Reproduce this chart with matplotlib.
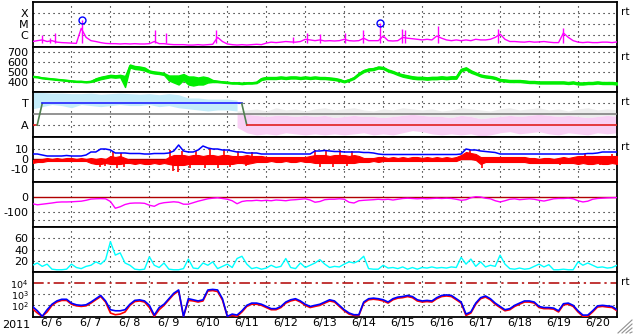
import numpy as np
import matplotlib
matplotlib.use("Agg")
import matplotlib.pyplot as plt
from matplotlib.lines import Line2D

plt.rcParams['font.family'] = ['DejaVu Sans']
plt.rcParams['mathtext.default'] = 'regular'

# time axis: days since 2011-06-06 00:00 UT
t3 = np.arange(121) * 0.125   # 3-hourly samples
t6 = np.arange(61) * 0.25     # 6-hourly samples
day_labels = ["6/ 6", "6/ 7", "6/ 8", "6/ 9", "6/10", "6/11", "6/12", "6/13",
              "6/14", "6/15", "6/16", "6/17", "6/18", "6/19", "6/20"]

# GOES X-ray flux (W/m2), background + short flares
xray = [2.5e-7, 3e-7, 3.5e-7, 2.5e-7, 3e-7, 2.2e-7, 2e-7, 1.9e-7, 1.8e-7, 1.7e-7,
        4e-6, 6e-7, 3e-7, 2.5e-7, 2e-7, 1.7e-7, 1.6e-7, 1.6e-7, 1.5e-7, 1.6e-7,
        1.5e-7, 1.6e-7, 1.5e-7, 1.5e-7, 1.6e-7, 2.5e-7, 1.6e-7, 1.6e-7, 1.4e-7, 1.3e-7,
        1.3e-7, 1.3e-7, 1.2e-7, 1.2e-7, 1.3e-7, 1.2e-7, 1.3e-7, 1.4e-7, 6e-7, 2.5e-7,
        1.5e-7, 1.3e-7, 1.2e-7, 1.3e-7, 1.2e-7, 1.3e-7, 1.4e-7, 1.3e-7, 1.8e-7, 2.2e-7,
        2e-7, 2.2e-7, 2.5e-7, 2.3e-7, 2.2e-7, 2.5e-7, 4e-7, 3.5e-7, 3e-7, 3.5e-7,
        2.8e-7, 3e-7, 2.8e-7, 3e-7, 4e-7, 3e-7, 2.8e-7, 3e-7, 5e-7, 3e-7,
        3e-7, 3e-7, 8e-7, 3e-7, 2.8e-7, 3e-7, 6e-7, 5e-7, 4.5e-7, 4e-7,
        3.5e-7, 4e-7, 3.5e-7, 8e-7, 5e-7, 3.5e-7, 3e-7, 3.5e-7, 3e-7, 3.5e-7,
        3e-7, 4e-7, 3.5e-7, 3.5e-7, 4e-7, 6e-7, 1.2e-6, 4e-7, 2.5e-7, 2.5e-7,
        2.3e-7, 2.2e-7, 2.5e-7, 2.2e-7, 2.3e-7, 2.5e-7, 2.2e-7, 2e-7, 2e-7, 1.5e-6,
        6e-7, 3e-7, 2.2e-7, 2e-7, 2.2e-7, 2e-7, 2e-7, 2.2e-7, 2.2e-7, 2e-7,
        2.3e-7]
flare_day = [0.24, 0.45, 0.58, 1.26, 3.14, 3.43, 4.72, 6.69, 7.04, 7.38,
             8.02, 8.48, 8.92, 9.48, 9.57, 10.41, 11.95, 13.61]
flare_peak = [9e-7, 5e-7, 1.5e-6, 2.3e-5, 2.8e-6, 1.5e-6, 3e-6, 6e-7, 1.5e-6, 1.1e-6,
              1.6e-6, 2.8e-6, 1.3e-5, 3.5e-6, 2.8e-6, 6.6e-6, 3.5e-6, 4.4e-6]
mflare_day = [1.26, 8.92]
mflare_peak = [2.3e-5, 1.3e-5]

# solar wind speed (km/s): mean and half-range of the noisy trace
speed = [455, 450, 440, 435, 430, 425, 420, 415, 410, 405,
         405, 400, 405, 425, 440, 450, 460, 455, 460, 405,
         560, 545, 540, 530, 505, 495, 490, 480, 440, 430,
         420, 450, 415, 410, 410, 415, 420, 410, 405, 400,
         395, 390, 390, 385, 390, 390, 395, 430, 440, 440,
         440, 445, 440, 445, 445, 440, 445, 440, 445, 440,
         440, 435, 430, 420, 405, 420, 440, 480, 510, 525,
         530, 545, 540, 515, 500, 480, 465, 455, 445, 440,
         440, 435, 440, 440, 445, 440, 445, 445, 520, 535,
         505, 485, 465, 455, 450, 440, 420, 415, 410, 410,
         410, 405, 400, 400, 395, 395, 395, 395, 395, 395,
         390, 395, 385, 385, 390, 390, 395, 390, 390, 390,
         385]
speed_spread = [4, 4, 4, 4, 4, 4, 4, 4, 4, 4,
                4, 4, 4, 12, 12, 12, 12, 12, 12, 55,
                15, 15, 15, 15, 10, 10, 10, 10, 25, 35,
                45, 30, 40, 45, 35, 40, 25, 10, 6, 6,
                6, 6, 6, 6, 6, 6, 6, 10, 10, 10,
                10, 10, 10, 10, 10, 10, 10, 10, 10, 10,
                10, 10, 10, 10, 8, 8, 8, 10, 10, 10,
                10, 10, 10, 10, 10, 10, 12, 12, 12, 12,
                12, 12, 12, 12, 12, 12, 12, 12, 12, 12,
                12, 10, 10, 10, 10, 10, 10, 10, 10, 10,
                10, 10, 10, 10, 10, 10, 10, 10, 10, 10,
                10, 10, 10, 10, 10, 10, 10, 10, 10, 10,
                10]

# IMF sector polarity (T = +1, A = -1) and scatter of the field angle
sector_day = [0, 0.12, 0.25, 5.37, 5.5, 15]
sector_pol = [-1, -1, 1, 1, -1, -1]
nan = np.nan
toward_lo = [0.5, 0.7, 0.9, 0.8, 0.6, 0.9, 0.8, 0.7, 0.8, 0.9, 0.8, 0.8, 0.9, 0.7,
             0.8, 0.6, 0.5, 0.4, 0.3, 0.4, 0.4, 0.3] + [nan] * 39
toward_hi = [2.0, 2.0, 1.95, 1.95, 1.9, 1.9, 1.95, 1.85, 1.9, 1.95, 1.9, 1.85, 1.9, 1.8,
             1.9, 1.8, 1.5, 1.5, 1.4, 1.4, 1.4, 1.3] + [nan] * 39
away_lo = [nan] * 21 + [-1.2, -1.7, -1.9, -1.8, -1.9, -1.7, -1.8, -1.9, -1.8, -1.9,
                        -1.8, -1.9, -1.8, -1.7, -1.9, -1.8, -1.9, -1.7, -1.5, -1.6,
                        -1.8, -1.9, -1.8, -1.9, -1.8, -2.0, -1.9, -1.7, -1.6, -1.8,
                        -1.7, -1.6, -1.8, -1.9, -1.7, -1.8, -1.9, -1.7, -1.8, -1.7]
away_hi = [nan] * 21 + [0.1, 0.0, -0.1, -0.2, -0.1, -0.1, -0.2, -0.1, -0.2, -0.1,
                        -0.3, -0.2, -0.1, -0.2, -0.2, -0.3, -0.2, -0.1, 0.0, -0.1,
                        -0.2, -0.2, -0.3, -0.1, -0.2, -0.4, -0.3, -0.2, -0.1, -0.2,
                        -0.1, 0.0, -0.1, -0.2, -0.1, -0.2, -0.3, -0.2, -0.1, -0.2]
gray_hi = [nan] * 21 + [0.3, 0.4, 0.5, 0.3, 0.6, 0.4, 0.5, 0.3, 0.5, 0.6,
                        0.4, 0.5, 0.6, 0.4, 0.3, 0.5, 0.4, 0.6, 0.5, 0.4,
                        0.5, 0.3, 0.4, 0.6, 0.5, 0.4, 0.3, 0.5, 0.6, 0.4,
                        0.5, 0.6, 0.4, 0.5, 0.3, 0.5, 0.6, 0.4, 0.5, 0.4]

# IMF Bt (nT), core range of Bz (nT) and its short excursions
bt = [5, 5, 4, 3, 3, 3, 3, 3.5, 3, 3,
      3, 4, 7, 7, 10, 10, 9, 6, 6, 6,
      5.5, 5.5, 5.5, 5, 5, 5.5, 5.5, 5.5, 6, 8,
      14, 8, 7, 7, 9, 13, 11, 10, 10, 9,
      9, 8, 7, 7, 6, 6, 6, 5, 5, 5,
      5, 5, 5, 5, 5, 5, 5, 5, 8, 8,
      8.5, 8, 7.5, 7.5, 7, 7, 7, 7, 6.5, 6.5,
      6, 5, 4.5, 4.5, 4.5, 4.5, 4.5, 4.5, 4.5, 4.5,
      4.5, 4.5, 4.5, 4.5, 4.5, 4.5, 4.5, 4.5, 5, 10,
      9, 9, 8, 7.5, 7, 6.5, 5, 5, 5, 5,
      5, 5, 5, 5, 5, 5, 5, 5, 5, 5,
      5, 5, 5, 5, 5.5, 5.5, 6, 7, 7, 7,
      7]
bz_hi = [-1, -1, 0, 1, 0, 1, 0, 1, 1, 0,
         1, 0, 1, 0, 1, 0, 3, 2, 3, 1,
         -1, -1, -1, -1, -1, -1, -1, -1, 2, 4,
         4, 4, 3, 4, 4, 3, 4, 4, 3, 4,
         4, 3, 3, 3, 4, 3, 3, 3, 2, 2,
         2, 2, 2, 2, 2, 2, 2, 3, 4, 4,
         4, 3, 4, 4, 4, 3, 4, 3, 1, 1,
         1, 2, 2, 1, 2, 1, 2, 1, 2, 2,
         1, 2, 1, 2, 1, 2, 1, 2, 4, 7,
         6, 5, 2, 2, 2, 2, 2, 2, 2, 2,
         2, 2, 1, 1, 0, 1, 1, 0, 1, 2,
         1, 2, 3, 3, 3, 3, 3, 3, 3, 3,
         3]
bz_lo = [-4, -3, -3, -2, -2, -2, -2, -2, -2, -2,
         -2, -2, -4, -5, -5, -4, -5, -5, -5, -4,
         -4, -5, -4, -5, -5, -4, -5, -4, -5, -6,
         -6, -6, -5, -5, -5, -5, -5, -5, -5, -5,
         -5, -5, -4, -4, -5, -4, -3, -3, -3, -2,
         -3, -3, -2, -3, -3, -2, -3, -3, -4, -4,
         -4, -4, -4, -4, -4, -4, -4, -3, -3, -3,
         -2, -3, -2, -2, -2, -2, -2, -2, -2, -2,
         -2, -2, -2, -2, -2, -2, -2, -2, 0, 0,
         0, -1, -5, -3, -3, -3, -3, -3, -3, -3,
         -3, -3, -4, -4, -4, -4, -4, -4, -4, -4,
         -4, -4, -5, -4, -5, -5, -4, -5, -5, -4,
         -5]
bz_spike_day = [1.73, 1.86, 2.07, 2.17, 2.27, 2.34, 3.53, 3.61, 3.74, 3.84,
                4.04, 4.2, 4.43, 4.55, 4.76, 4.91, 5.07, 5.27, 5.48, 5.63,
                7.25, 7.38, 7.53, 7.71, 7.89, 8.07, 8.2, 11.23, 11.53, 13.54,
                14.18, 14.56, 14.87]
bz_spike_val = [-8, -7, 7, -9, 6, -8, 9, -12, -13, 8,
                -9, 8, -9, 10, -9, 9, -8, 8, -7, 7,
                9, -8, 8, -8, 9, -7, 8, 9, -9, -6,
                5, -6, 5]

# Dst index (nT)
dst = [-45, -52, -48, -44, -40, -35, -33, -33, -32, -30,
       -28, -22, -14, -12, -11, -12, -30, -75, -65, -50,
       -42, -40, -40, -42, -55, -62, -45, -38, -35, -32,
       -35, -48, -48, -38, -28, -20, -12, -8, -5, -10,
       -15, -25, -45, -30, -25, -25, -22, -25, -22, -25,
       -20, -22, -25, -20, -18, -15, -12, -20, -35, -30,
       -18, -15, -15, -12, -15, -35, -40, -25, -22, -20,
       -18, -15, -18, -15, -20, -15, -10, -8, -10, -12,
       -10, -12, -10, -8, -10, -8, -10, -15, -22, -18,
       -5, 2, 0, -8, -12, -25, -33, -25, -15, -12,
       -18, -15, -12, -15, -22, -27, -20, -12, -10, -10,
       -8, -12, -25, -33, -28, -15, -10, -8, -6, -5,
       -4]

# geomagnetic activity index
activity = [12, 16, 10, 14, 5, 4, 4, 5, 14, 8,
            6, 10, 12, 18, 14, 22, 54, 30, 34, 16,
            12, 5, 4, 5, 27, 12, 8, 16, 5, 4,
            4, 6, 23, 7, 6, 16, 12, 18, 6, 10,
            14, 8, 24, 28, 14, 6, 8, 5, 7, 12,
            8, 10, 24, 8, 6, 16, 8, 12, 16, 22,
            14, 8, 10, 9, 14, 18, 16, 20, 28, 6,
            5, 5, 12, 7, 8, 6, 9, 5, 8, 5,
            8, 7, 9, 7, 8, 7, 9, 8, 26, 14,
            23, 10, 18, 9, 12, 10, 30, 14, 6, 5,
            7, 5, 6, 10, 14, 9, 13, 4, 4, 5,
            4, 4, 18, 12, 16, 12, 8, 9, 7, 8,
            12]

# >2 MeV electron flux, two satellites
eflux_blue = [79, 32, 10, 40, 126, 251, 355, 355, 158, 112,
              100, 112, 200, 398, 794, 251, 40, 32, 32, 40,
              126, 282, 316, 251, 100, 13, 63, 126, 398, 1260,
              2500, 10, 400, 320, 250, 320, 2500, 2800, 2500, 400,
              10, 16, 13, 32, 100, 160, 160, 126, 79, 50,
              50, 79, 200, 320, 400, 250, 126, 79, 100, 126,
              200, 320, 250, 100, 40, 20, 14, 14, 200, 400,
              450, 400, 320, 200, 400, 560, 630, 790, 630, 320,
              250, 280, 250, 500, 790, 890, 790, 400, 200, 16,
              25, 160, 500, 710, 400, 160, 79, 40, 50, 100,
              160, 250, 250, 200, 79, 63, 63, 56, 32, 140,
              160, 100, 32, 13, 13, 32, 89, 100, 89, 79,
              40]
eflux_red = [50, 20, 10, 25, 100, 200, 280, 280, 126, 90,
             80, 90, 160, 320, 630, 200, 20, 14, 16, 25,
             100, 220, 250, 200, 63, 10, 40, 100, 320, 1000,
             2000, 10, 280, 250, 200, 250, 2000, 2200, 1800, 300,
             10, 12, 10, 25, 80, 126, 126, 100, 63, 40,
             40, 63, 160, 250, 320, 200, 100, 63, 80, 100,
             160, 250, 200, 80, 32, 16, 12, 12, 160, 320,
             360, 320, 250, 160, 320, 450, 500, 630, 500, 250,
             200, 220, 200, 400, 630, 710, 630, 320, 160, 12,
             20, 126, 400, 560, 320, 126, 63, 32, 40, 80,
             126, 200, 200, 160, 63, 50, 50, 45, 25, 110,
             126, 80, 25, 10, 10, 25, 70, 80, 70, 63,
             32]

W, H = 633, 334
L, R = 32.5, 617
fig = plt.figure(figsize=(W / 100, H / 100), dpi=100)

dot = dict(color='black', lw=0.8, ls=(0, (1, 3.5)), zorder=1)
darkred = '#b00000'
fs = 8


def make_panel(k, yticks, ylabels, log=False, rt=False, size=fs):
    top = 2 + 45 * k
    ax = fig.add_axes([L / W, 1 - (top + 45) / H, (R - L) / W, 45 / H])
    if log:
        ax.set_yscale('log')
    ax.set_xlim(0, 15)
    ax.set_yticks(yticks, ylabels)
    ax.minorticks_off()
    ax.tick_params(axis='y', length=0, pad=3, labelsize=size)
    ax.tick_params(axis='x', length=0)
    ax.set_xticks([])
    for d in range(1, 15):
        ax.axvline(d, **dot)
    for s in ax.spines.values():
        s.set_linewidth(1.3)
    if rt:
        ax.text(1.006, 0.78, 'rt', transform=ax.transAxes, fontsize=7.5, va='center')
    return ax


# panel 1: X-ray
ax1 = make_panel(0, [1e-6, 1e-5, 1e-4], ['C', 'M', 'X'], log=True, rt=True)
ax1.set_ylim(10 ** -7.1, 1e-3)
for v in [1e-6, 1e-5, 1e-4]:
    ax1.axhline(v, **dot)
ax1.vlines(flare_day, 1.8e-7, flare_peak, color='#ff00ff', lw=1.0, zorder=2)
ax1.plot(t3, xray, color='#ff00ff', lw=1.0, zorder=3)
ax1.plot(mflare_day, mflare_peak, 'o', mfc='none', mec='#0000ff', ms=5, mew=1.0, zorder=4)

# panel 2: solar wind speed
ax2 = make_panel(1, [400, 500, 600, 700], ['400', '500', '600', '700'], rt=True)
ax2.set_ylim(300, 750)
for v in [400, 500, 600, 700]:
    ax2.axhline(v, **dot)
sp = np.array(speed)
ss = np.array(speed_spread)
ax2.fill_between(t3, sp - ss, sp + ss, color='#00ee00', lw=1.0, zorder=3)
ax2.plot(t3, sp, color='#00ee00', lw=1.3, zorder=3)

# panel 3: IMF sector
ax3 = make_panel(2, [-1, 1], ['A', 'T'], rt=True)
ax3.set_ylim(-2.09, 2.05)
ax3.fill_between(t6, away_hi, gray_hi, color='#ededed', lw=0, zorder=2)
ax3.fill_between(t6, toward_lo, toward_hi, color='#c4ecfa', lw=0, zorder=2)
ax3.fill_between(t6, away_lo, away_hi, color='#f9d0f5', lw=0, zorder=2)
ax3.axhline(1, **dot)
ax3.axhline(-1, **dot)
ax3.axhline(0, color='#808080', lw=1.2, zorder=3)
for i in range(len(sector_day) - 1):
    p0, p1 = sector_pol[i], sector_pol[i + 1]
    c = '#508050' if p0 != p1 else ('#2020ff' if p0 > 0 else '#e02020')
    ax3.plot(sector_day[i:i + 2], sector_pol[i:i + 2], color=c, lw=1.2, zorder=4)

# panel 4: Bt and Bz
ax4 = make_panel(3, [-10, 0, 10], ['-10', '0', '10'], rt=True)
ax4.set_ylim(-23, 22)
ax4.axhline(10, **dot)
ax4.axhline(-10, **dot)
ax4.axhline(0, color=darkred, lw=1.0, zorder=2)
ax4.fill_between(t3, bz_lo, bz_hi, color='#ff0000', lw=0.8, zorder=3)
ax4.vlines(bz_spike_day, 0, bz_spike_val, color='#ff0000', lw=1.2, zorder=3)
ax4.plot(t3, bt, color='#0000ff', lw=1.1, zorder=4)

# panel 5: Dst
ax5 = make_panel(4, [-100, 0], ['-100', '0'])
ax5.set_ylim(-200, 100)
ax5.axhline(-100, **dot)
ax5.axhline(-150, **dot)
ax5.axhline(0, color=darkred, lw=1.0, zorder=2)
ax5.plot(t3, dst, color='#ff00ff', lw=1.0, zorder=3)

# panel 6: activity index
ax6 = make_panel(5, [20, 40, 60], ['20', '40', '60'])
ax6.set_ylim(0, 80)
for v in [20, 40, 60]:
    ax6.axhline(v, **dot)
ax6.plot(t3, activity, color='#00ffff', lw=1.0, zorder=3)

# panel 7: electron flux
ax7 = make_panel(6, [1e2, 1e3, 1e4], ['$10^2$', '$10^3$', '$10^4$'], log=True, rt=True,
                 size=6.8)
ax7.set_ylim(10 ** 0.94, 10 ** 5.03)
ax7.axhline(1e3, **dot)
ax7.axhline(1e2, **dot)
ax7.axhline(1e4, color=darkred, lw=1.1, ls=(0, (7, 2.5, 1.5, 2.5)), zorder=2)
ax7.plot(t3, eflux_red, color='#ff0000', lw=1.2, zorder=3)
ax7.plot(t3, eflux_blue, color='#0000ff', lw=1.2, zorder=4)
ax7.set_xticks(np.arange(15) + 0.5, day_labels)
ax7.tick_params(axis='x', length=0, pad=1, labelsize=fs)

fig.text(2 / W, 1 - 325 / H, '2011', fontsize=fs, va='center', ha='left')

# resize grip in the corner
for k in range(4):
    o = 4 * k + 3
    fig.add_artist(Line2D([(W - o) / W, (W - 1) / W], [1 / H, (o - 1) / H],
                          color='#909090', lw=0.8))

fig.savefig('out.png', dpi=100)
